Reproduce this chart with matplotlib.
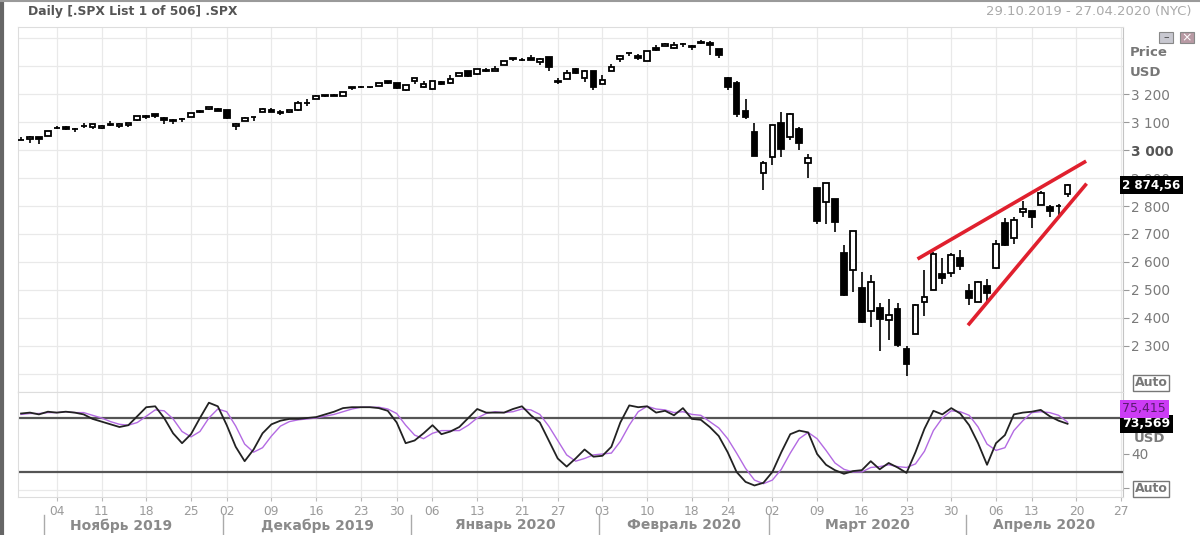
import numpy as np
import pandas as pd
import matplotlib
matplotlib.use('Agg')
import matplotlib.pyplot as plt
from matplotlib.transforms import blended_transform_factory
from matplotlib.patches import Rectangle

# trading days (NYSE holidays removed), chart runs a week past the last bar
holidays = ['2019-11-28', '2019-12-25', '2020-01-01', '2020-01-20', '2020-02-17', '2020-04-10']
days = pd.bdate_range('2019-10-29', '2020-04-28')
days = days[~days.isin(pd.to_datetime(holidays))]

# .SPX daily OHLC, 29.10.2019 - 17.04.2020
opens = [3035.39, 3039.74, 3046.90, 3050.72,
         3078.96, 3080.80, 3075.10, 3087.02, 3081.25,
         3080.33, 3089.28, 3084.18, 3090.75, 3107.92,
         3117.91, 3127.45, 3114.66, 3108.49, 3111.41,
         3117.44, 3134.85, 3145.49, 3147.18,
         3143.85, 3087.41, 3103.50, 3119.21, 3134.62,
         3141.86, 3135.36, 3135.75, 3141.23, 3166.65,
         3183.63, 3195.40, 3195.21, 3192.32, 3223.33,
         3226.05, 3225.45, 3227.20, 3247.23,
         3240.09, 3215.18, 3244.67, 3226.36,
         3217.55, 3241.86, 3238.59, 3266.03, 3281.81,
         3271.13, 3285.35, 3282.27, 3302.97, 3323.66,
         3321.03, 3330.02, 3315.77, 3333.10,
         3247.16, 3255.35, 3289.46, 3256.45, 3282.33,
         3235.66, 3280.61, 3324.91, 3344.92, 3335.54,
         3318.28, 3365.87, 3370.50, 3365.90, 3378.08,
         3369.04, 3380.39, 3380.45, 3360.50,
         3257.61, 3238.94, 3139.90, 3062.54, 2916.90,
         2974.28, 3096.46, 3045.75, 3075.70, 2954.20,
         2863.89, 2813.48, 2825.60, 2630.86, 2569.99,
         2508.59, 2425.66, 2436.50, 2393.48, 2431.94,
         2290.71, 2344.44, 2457.77, 2501.29, 2555.87,
         2558.98, 2614.69, 2498.08, 2458.54, 2514.92,
         2578.28, 2738.65, 2685.00, 2776.99,
         2782.46, 2805.10, 2795.64, 2799.34, 2842.43]
highs = [3047.87, 3050.10, 3046.90, 3066.95,
         3085.20, 3083.95, 3078.34, 3097.77, 3093.09,
         3088.33, 3102.61, 3098.06, 3098.20, 3120.46,
         3124.17, 3127.64, 3118.97, 3110.11, 3112.87,
         3133.83, 3142.69, 3154.26, 3150.30,
         3144.31, 3094.97, 3119.38, 3119.45, 3150.60,
         3148.87, 3142.12, 3143.98, 3176.28, 3182.68,
         3197.71, 3198.22, 3198.48, 3205.48, 3225.65,
         3227.78, 3226.43, 3240.08, 3247.93,
         3240.92, 3231.72, 3258.14, 3246.15,
         3246.84, 3244.91, 3267.07, 3275.58, 3282.99,
         3288.13, 3294.25, 3298.66, 3317.11, 3329.88,
         3329.79, 3337.77, 3326.88, 3333.18,
         3258.85, 3285.78, 3293.47, 3285.91, 3282.33,
         3268.44, 3306.92, 3337.58, 3347.96, 3341.42,
         3352.26, 3375.63, 3381.47, 3385.09, 3380.69,
         3375.01, 3393.52, 3389.15, 3360.76,
         3259.81, 3246.99, 3182.51, 3097.07, 2959.72,
         3090.96, 3136.72, 3130.97, 3083.04, 2985.93,
         2863.89, 2882.59, 2825.60, 2660.95, 2711.33,
         2562.98, 2553.93, 2453.57, 2466.97, 2453.01,
         2300.73, 2449.71, 2571.42, 2637.01, 2615.91,
         2631.80, 2641.39, 2522.75, 2533.22, 2538.18,
         2676.85, 2756.89, 2760.75, 2818.57,
         2782.46, 2851.85, 2801.88, 2806.51, 2879.22]
lows = [3034.81, 3025.96, 3023.19, 3050.72,
        3074.87, 3072.15, 3065.89, 3080.23, 3073.58,
        3075.82, 3084.73, 3078.80, 3083.26, 3104.60,
        3112.06, 3113.47, 3091.41, 3094.55, 3099.26,
        3117.44, 3131.00, 3143.41, 3139.34,
        3110.78, 3070.33, 3102.53, 3103.76, 3134.62,
        3135.46, 3126.09, 3133.21, 3138.47, 3156.51,
        3183.63, 3191.03, 3191.14, 3192.32, 3216.03,
        3222.30, 3220.51, 3227.20, 3234.37,
        3216.57, 3212.03, 3235.53, 3222.34,
        3214.64, 3232.43, 3236.67, 3263.67, 3260.86,
        3268.43, 3277.19, 3280.69, 3302.82, 3318.86,
        3316.61, 3320.04, 3301.87, 3281.53,
        3234.50, 3253.22, 3271.89, 3242.80, 3214.68,
        3235.66, 3280.61, 3313.75, 3334.39, 3322.12,
        3317.77, 3352.72, 3369.72, 3360.52, 3366.15,
        3355.61, 3378.83, 3341.02, 3328.45,
        3214.65, 3118.77, 3108.99, 2977.39, 2855.84,
        2945.19, 2976.63, 3034.38, 2999.83, 2901.54,
        2734.43, 2734.00, 2707.22, 2478.86, 2492.37,
        2380.94, 2367.04, 2280.52, 2319.78, 2295.56,
        2191.86, 2344.44, 2407.53, 2500.72, 2520.02,
        2545.28, 2571.15, 2447.49, 2455.79, 2459.96,
        2574.57, 2657.67, 2663.30, 2762.36,
        2721.17, 2805.10, 2761.54, 2764.32, 2830.88]
closes = [3036.89, 3046.77, 3037.56, 3066.91,
          3078.27, 3074.62, 3076.78, 3085.18, 3093.08,
          3087.01, 3091.84, 3094.04, 3096.63, 3120.46,
          3122.03, 3120.18, 3108.46, 3103.54, 3110.29,
          3133.64, 3140.52, 3153.63, 3140.98,
          3113.87, 3093.20, 3112.76, 3117.43, 3145.91,
          3135.96, 3132.52, 3141.63, 3168.57, 3168.80,
          3191.45, 3192.52, 3191.14, 3205.37, 3221.22,
          3224.01, 3223.38, 3239.91, 3240.02,
          3221.29, 3230.78, 3257.85, 3234.85,
          3246.28, 3237.18, 3253.05, 3274.70, 3265.35,
          3288.13, 3283.15, 3289.29, 3316.81, 3329.62,
          3320.79, 3321.75, 3325.54, 3295.47,
          3243.63, 3276.24, 3273.40, 3283.66, 3225.52,
          3248.92, 3297.59, 3334.69, 3345.78, 3327.71,
          3352.09, 3357.75, 3379.45, 3373.94, 3380.16,
          3370.29, 3386.15, 3373.23, 3337.75,
          3225.89, 3128.21, 3116.39, 2978.76, 2954.22,
          3090.23, 3003.37, 3130.12, 3023.94, 2972.37,
          2746.56, 2882.23, 2741.38, 2480.64, 2711.02,
          2386.13, 2529.19, 2398.10, 2409.39, 2304.92,
          2237.40, 2447.33, 2475.56, 2630.07, 2541.47,
          2626.65, 2584.59, 2470.50, 2526.90, 2488.65,
          2663.68, 2659.41, 2749.98, 2789.82,
          2761.63, 2846.06, 2783.36, 2799.55, 2874.56]

# stochastic: %K (black) and %D (violet)
stoch_k = [85, 86, 84, 87, 86, 87, 86, 84, 79, 76,
           73, 70, 72, 82, 92, 93, 80, 63, 52, 62,
           80, 97, 93, 72, 48, 32, 45, 63, 73, 77,
           79, 79, 80, 81, 84, 87, 91, 92, 92, 92,
           91, 88, 75, 52, 55, 63, 72, 62, 65, 70,
           80, 90, 86, 86, 86, 90, 93, 83, 75, 55,
           35, 26, 35, 45, 37, 38, 48, 75, 94, 92,
           93, 86, 88, 83, 91, 79, 78, 70, 60, 42,
           20, 9, 5, 8, 20, 42, 62, 66, 64, 40,
           28, 22, 18, 21, 22, 32, 23, 30, 25, 19,
           42, 68, 88, 84, 91, 85, 72, 52, 28, 52,
           61, 84, 86, 87, 89, 82, 77, 73.569]
stoch_d = [84, 85, 85, 86, 86, 87, 86, 86, 83, 80,
           76, 73, 72, 75, 82, 89, 88, 79, 65, 59,
           65, 80, 90, 87, 71, 51, 42, 47, 60, 71,
           76, 78, 79, 80, 82, 84, 87, 90, 92, 92,
           92, 90, 85, 72, 61, 57, 63, 66, 66, 66,
           72, 80, 85, 87, 86, 87, 90, 89, 84, 71,
           55, 39, 32, 35, 39, 40, 41, 54, 72, 87,
           93, 90, 89, 86, 87, 84, 83, 76, 69, 57,
           41, 24, 11, 7, 11, 23, 41, 57, 64, 57,
           44, 30, 23, 20, 20, 25, 26, 28, 26, 25,
           29, 43, 66, 80, 88, 87, 83, 70, 51, 44,
           47, 66, 77, 86, 87, 86, 83, 75.415]

# rising wedge drawn on the chart (bar index, price)
upper_line_x = [100.4, 118.9]
upper_line_y = [2614, 2957]
lower_line_x = [106.0, 119.0]
lower_line_y = [2379, 2875]

price_ticks = [2300, 2400, 2500, 2600, 2700, 2800, 2900, 3000, 3100, 3200]
month_names = ['Ноябрь 2019', 'Декабрь 2019', 'Январь 2020',
               'Февраль 2020', 'Март 2020', 'Апрель 2020']

opens = np.array(opens); highs = np.array(highs)
lows = np.array(lows); closes = np.array(closes)
x = np.arange(len(closes))

W, H = 1200, 535
def box(l, t, r, b):
    return [l / W, 1 - b / H, (r - l) / W, (b - t) / H]

fig = plt.figure(figsize=(12, 5.35), dpi=100)
fig.patch.set_facecolor('white')
ax = fig.add_axes(box(18, 27, 1123, 392))
ax2 = fig.add_axes(box(18, 392, 1123, 497), sharex=ax)

xmin, xmax = -0.34, 123.2
ax.set_xlim(xmin, xmax)
ax.set_ylim(2135.7, 3439.3)
ax2.set_ylim(-7.8, 108.9)

# weekly ticks = first trading day of every week (first partial week skipped)
wk = pd.Series(np.arange(len(days)), index=days)
iso = days.isocalendar()
week_first = wk.groupby([iso.year.values, iso.week.values]).min()
week_idx = [i for i in week_first.values if i > 0]
week_lbl = [days[i].strftime('%d') for i in week_idx]
month_first = [i for i in range(1, len(days)) if days[i].month != days[i - 1].month]

grid_c = '#e9e9e9'
for a in (ax, ax2):
    for i in week_idx:
        a.axvline(i, color=grid_c, lw=0.9, zorder=0)
    for s in ('top', 'left', 'bottom'):
        a.spines[s].set_color('#dddddd')
    a.spines['right'].set_color('#c4c4c4')
for lv in range(2200, 3500, 100):
    ax.axhline(lv, color=grid_c, lw=0.9, zorder=0)
ax2.axhline(0, color=grid_c, lw=0.9, zorder=0)
ax.spines['bottom'].set_color('#d0d0d0')

# candles
up = closes >= opens
ax.vlines(x, lows, highs, color='black', lw=1.2, zorder=2)
ax.bar(x[up], (closes - opens)[up], bottom=opens[up], width=0.64,
       facecolor='white', edgecolor='black', lw=1.3, zorder=3)
ax.bar(x[~up], (opens - closes)[~up], bottom=closes[~up], width=0.64,
       facecolor='black', edgecolor='black', lw=1.3, zorder=3)

ax.plot(upper_line_x, upper_line_y, color='#e0202e', lw=2.6, zorder=4)
ax.plot(lower_line_x, lower_line_y, color='#e0202e', lw=2.6, zorder=4)

# price axis on the right
ax.yaxis.tick_right()
ax.set_yticks(price_ticks, labels=[f'{p // 1000} {p % 1000:03d}' for p in price_ticks])
ax.tick_params(axis='y', length=4, color='#999999', labelcolor='#7a7a7a',
               labelsize=9.8, pad=2)
for t in ax.get_yticklabels():
    if t.get_text() == '3 000':
        t.set_fontweight('bold')
        t.set_color('#555555')
ax.tick_params(axis='x', length=0, labelbottom=False)

ytr = ax.get_yaxis_transform()
ax.text(0.9995, closes[-1], '2 874,56', transform=ytr, color='white', fontsize=8.6,
        fontweight='bold', va='center', ha='left', zorder=10, clip_on=False,
        bbox=dict(boxstyle='square,pad=0.2', fc='black', ec='none'))

# stochastic pane
ax2.plot(x, stoch_d, color='#b36ae2', lw=1.0, zorder=3)
ax2.plot(x, stoch_k, color='#222222', lw=1.3, zorder=4)
ax2.axhline(80, color='#555555', lw=1.6, zorder=2)
ax2.axhline(20, color='#555555', lw=1.6, zorder=2)

ax2.yaxis.tick_right()
ax2.set_yticks([40, 2.2], labels=['40', ''])
ax2.tick_params(axis='y', length=4, color='#999999', labelcolor='#7a7a7a',
                labelsize=9.8, pad=2)
ax2.set_xticks(week_idx, labels=week_lbl)
ax2.tick_params(axis='x', length=3, color='#bbbbbb', labelcolor='#9a9a9a',
                labelsize=8.8, pad=3)

ytr2 = ax2.get_yaxis_transform()
ax2.text(0.9995, stoch_k[-1], '73,569', transform=ytr2, color='white', fontsize=9,
         fontweight='bold', va='center', ha='left', zorder=10, clip_on=False,
         bbox=dict(boxstyle='square,pad=0.2', fc='black', ec='none'))
ax2.text(0.9995, stoch_k[-1] + 16.5, '75,415', transform=ytr2, color='#5a1a70',
         fontsize=9, va='center', ha='left', zorder=10, clip_on=False,
         bbox=dict(boxstyle='square,pad=0.2', fc='#cc3cf5', ec='none'))
ax2.text(1.010, 57.5, 'USD', transform=ytr2, color='#7a7a7a', fontsize=9.5,
         fontweight='bold', va='center', ha='left', clip_on=False)

# month row under the day numbers
mtr = blended_transform_factory(ax2.transData, ax2.transAxes)
seps = [i - 0.4 for i in month_first]
bounds = [xmin] + seps[1:] + [xmax]
for j, name in enumerate(month_names):
    ax2.text((bounds[j] + bounds[j + 1]) / 2, -0.27, name, transform=mtr,
             ha='center', va='center', fontsize=10, fontweight='bold', color='#8a8a8a')
for s in seps:
    ax2.plot([s, s], [-0.17, -0.37], transform=mtr, color='#aaaaaa', lw=1, clip_on=False)

# header and right-hand decorations
fig.text(28 / W, 1 - 12 / H, 'Daily [.SPX List 1 of 506] .SPX', fontsize=8.9,
         fontweight='bold', color='#555555', va='center', ha='left')
fig.text(1192 / W, 1 - 12 / H, '29.10.2019 - 27.04.2020 (NYC)', fontsize=9.5,
         color='#aaaaaa', va='center', ha='right')
fig.text(1130 / W, 1 - 53 / H, 'Price', fontsize=9.5, fontweight='bold',
         color='#777777', va='center', ha='left')
fig.text(1130 / W, 1 - 72 / H, 'USD', fontsize=9.5, fontweight='bold',
         color='#777777', va='center', ha='left')
for yy in (383, 489):
    fig.text(1151 / W, 1 - yy / H, 'Auto', fontsize=9, fontweight='bold',
             color='#777777', va='center', ha='center',
             bbox=dict(boxstyle='square,pad=0.15', fc='white', ec='#777777', lw=1))
for xx, fc in ((1159, '#c8c8d0'), (1180, '#b89aa4')):
    fig.add_artist(Rectangle((xx / W, 1 - 43 / H), 14 / W, 11 / H, transform=fig.transFigure,
                             fc=fc, ec='#888888', lw=0.8))
fig.text(1166 / W, 1 - 37.5 / H, '–', fontsize=8, color='#444444', ha='center', va='center')
fig.text(1187 / W, 1 - 37.5 / H, '×', fontsize=9, color='#ffffff', ha='center', va='center')

# outer frame of the screenshot
fig.add_artist(plt.Line2D([1.5 / W, 1.5 / W], [0, 1], transform=fig.transFigure,
                          color='#666666', lw=3))
fig.add_artist(plt.Line2D([0, 1], [1 - 0.8 / H, 1 - 0.8 / H], transform=fig.transFigure,
                          color='#9a9a9a', lw=1.5))

fig.savefig('out.png', dpi=100, facecolor='white')
